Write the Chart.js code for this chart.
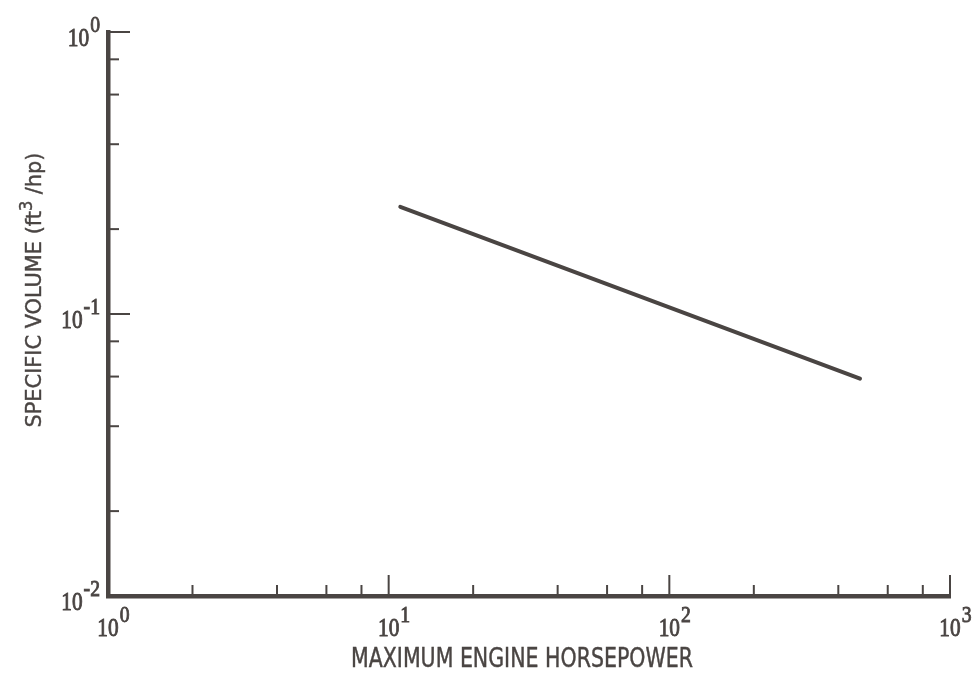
<!DOCTYPE html>
<html>
<head>
<meta charset="utf-8">
<script src="https://cdn.jsdelivr.net/npm/chart.js@4.4.1/dist/chart.umd.min.js"></script>
<style>
  html, body { margin: 0; padding: 0; background: #ffffff; }
  #chart { display: block; }
</style>
</head>
<body>
<canvas id="chart" width="978" height="678"></canvas>
<script>
// values
const horsepower = [11, 478];
const specificVolume = [0.24, 0.059];

// axis ticks
const xMajorTicks = [1, 10, 100, 1000];
const xMinorTicks = [2, 4, 6, 8, 20, 40, 60, 80, 200, 400, 600, 800];
const xTickLabels = [["10", "0"], ["10", "1"], ["10", "2"], ["10", "3"]];
const yMajorTicks = [0.01, 0.1, 1];
const yMinorTicks = [0.02, 0.04, 0.06, 0.08, 0.2, 0.4, 0.6, 0.8];
const yTickLabels = [["10", "-2"], ["10", "-1"], ["10", "0"]];

const ink = "#4a4543";
const numFont = "26px 'Liberation Serif', serif";
const supFont = "24px 'Liberation Serif', serif";
const numSquash = 0.82;
const sansFamily = "'Liberation Sans Narrow', 'DejaVu Sans Condensed', sans-serif";

// draw text squeezed horizontally by sx, left edge at x
function squeezed(ctx, str, x, y, font, sx, heavy) {
  ctx.save();
  ctx.font = font;
  ctx.textAlign = "left";
  ctx.translate(x, y);
  ctx.scale(sx, 1);
  ctx.fillText(str, 0, 0);
  if (heavy) {
    ctx.lineWidth = heavy;
    ctx.strokeText(str, 0, 0);
  }
  ctx.restore();
  ctx.font = font;
  return ctx.measureText(str).width * sx;
}

function widthOf(ctx, str, font, sx) {
  ctx.font = font;
  return ctx.measureText(str).width * sx;
}

function drawPower(ctx, base, sup, x, y, align) {
  const wb = widthOf(ctx, base, numFont, numSquash);
  const ws = widthOf(ctx, sup, supFont, numSquash);
  const left = align === "right" ? x - wb - ws - 1 : x - wb / 2;
  squeezed(ctx, base, left, y, numFont, numSquash, 0.9);
  squeezed(ctx, sup, left + wb + 1, y - 14, supFont, numSquash, 0.9);
}

// draw a run of [text, isSuperscript] pieces fitted to a given width, centred at 0
function fittedTitle(ctx, pieces, size, targetWidth) {
  const mainFont = size + "px " + sansFamily;
  const smallFont = Math.round(size * 0.75) + "px " + sansFamily;
  let total = 0;
  pieces.forEach(p => { total += widthOf(ctx, p[0], p[1] ? smallFont : mainFont, 1); });
  const sx = targetWidth / total;
  let x = -targetWidth / 2;
  pieces.forEach(p => {
    x += squeezed(ctx, p[0], x, p[1] ? -Math.round(size * 0.42) : 0, p[1] ? smallFont : mainFont, sx, 0.4);
  });
}

const axisDecor = {
  id: "axisDecor",
  afterDraw(chart) {
    const ctx = chart.ctx;
    const xs = chart.scales.x;
    const ys = chart.scales.y;
    const area = chart.chartArea;
    ctx.save();
    ctx.strokeStyle = ink;
    ctx.fillStyle = ink;
    ctx.lineCap = "butt";

    // inward tick marks
    ctx.lineWidth = 2;
    xMajorTicks.forEach(v => {
      const px = xs.getPixelForValue(v);
      ctx.beginPath(); ctx.moveTo(px, area.bottom); ctx.lineTo(px, area.bottom - 21); ctx.stroke();
    });
    xMinorTicks.forEach(v => {
      const px = xs.getPixelForValue(v);
      ctx.beginPath(); ctx.moveTo(px, area.bottom); ctx.lineTo(px, area.bottom - 11); ctx.stroke();
    });
    yMajorTicks.forEach(v => {
      const py = ys.getPixelForValue(v);
      ctx.beginPath(); ctx.moveTo(area.left, py); ctx.lineTo(area.left + 22, py); ctx.stroke();
    });
    yMinorTicks.forEach(v => {
      const py = ys.getPixelForValue(v);
      ctx.beginPath(); ctx.moveTo(area.left, py); ctx.lineTo(area.left + 11, py); ctx.stroke();
    });

    // tick labels
    xMajorTicks.forEach((v, i) => {
      drawPower(ctx, xTickLabels[i][0], xTickLabels[i][1], xs.getPixelForValue(v), area.bottom + 40, "center");
    });
    yMajorTicks.forEach((v, i) => {
      drawPower(ctx, yTickLabels[i][0], yTickLabels[i][1], area.left - 8, ys.getPixelForValue(v) + 14, "right");
    });

    // axis titles
    ctx.save();
    ctx.translate(522, 667);
    fittedTitle(ctx, [["MAXIMUM ENGINE HORSEPOWER", false]], 26, 342);
    ctx.restore();

    ctx.save();
    ctx.translate(41, 290);
    ctx.rotate(-Math.PI / 2);
    fittedTitle(ctx, [["SPECIFIC VOLUME (ft", false], ["3", true], [" /hp)", false]], 22, 275);
    ctx.restore();

    ctx.restore();
  }
};

new Chart(document.getElementById("chart"), {
  type: "scatter",
  data: {
    datasets: [{
      data: horsepower.map((h, i) => ({ x: h, y: specificVolume[i] })),
      showLine: true,
      borderColor: ink,
      borderWidth: 4,
      pointRadius: 0,
      borderCapStyle: "round"
    }]
  },
  options: {
    responsive: false,
    animation: false,
    devicePixelRatio: 1,
    layout: { padding: { left: 100, right: 28, top: 32, bottom: 74 } },
    plugins: { legend: { display: false }, tooltip: { enabled: false } },
    scales: {
      x: {
        type: "logarithmic",
        min: 1,
        max: 1000,
        grid: { display: false },
        ticks: { display: false },
        border: { display: true, color: ink, width: 4.5 }
      },
      y: {
        type: "logarithmic",
        min: 0.01,
        max: 1,
        grid: { display: false },
        ticks: { display: false },
        border: { display: true, color: ink, width: 4.5 }
      }
    }
  },
  plugins: [axisDecor]
});
</script>
</body>
</html>
